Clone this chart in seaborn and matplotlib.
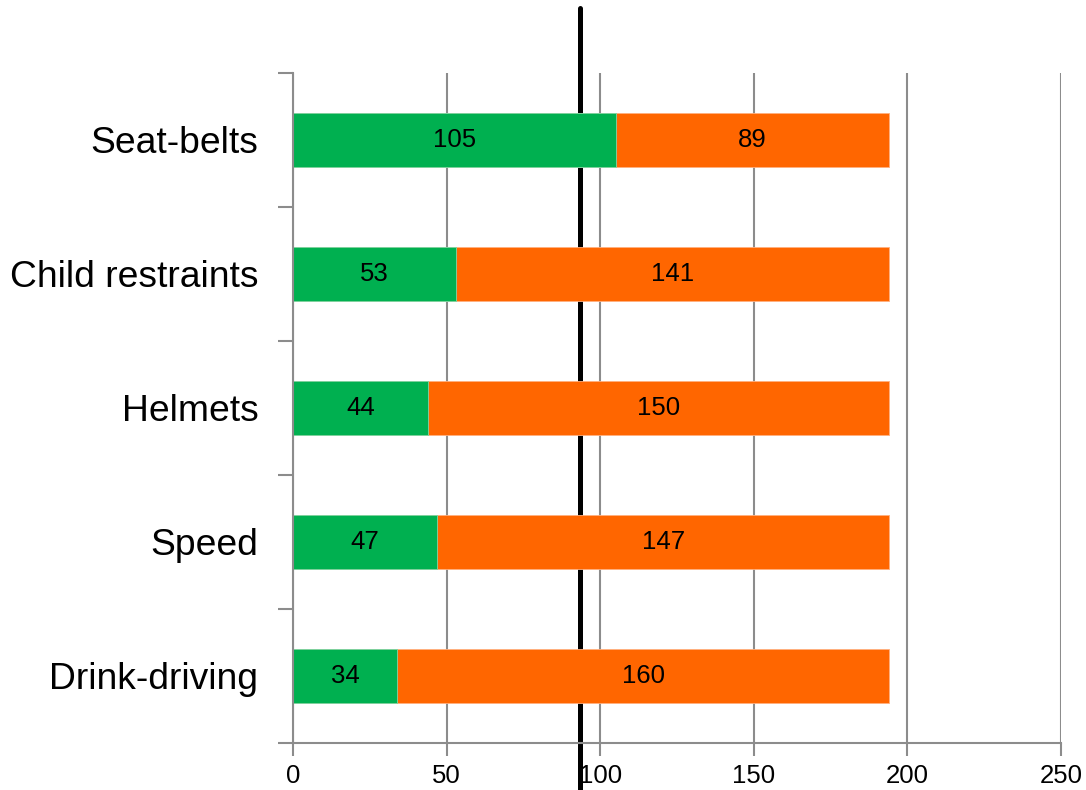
import matplotlib
matplotlib.use("Agg")
import matplotlib.pyplot as plt
import seaborn as sns
import pandas as pd
import numpy as np

# Countries meeting / not meeting best-practice criteria for each road-safety law
categories = ["Seat-belts", "Child restraints", "Helmets", "Speed", "Drink-driving"]
meets = [105, 53, 44, 47, 34]
does_not_meet = [89, 141, 150, 147, 160]
x_ticks = [0, 50, 100, 150, 200, 250]
reference_value = 93.4

GREEN = "#00B050"
ORANGE = "#FF6600"
GRID = "#8c8c8c"

sns.set_style("white")
plt.rcParams["font.family"] = ["Liberation Sans", "DejaVu Sans"]
plt.rcParams["text.color"] = "black"
plt.rcParams["xtick.labelcolor"] = "black"
plt.rcParams["ytick.labelcolor"] = "black"

df = pd.DataFrame({
    "category": categories,
    "meets": meets,
    "not_meets": does_not_meet,
})
df["total"] = df["meets"] + df["not_meets"]

fig = plt.figure(figsize=(10.86, 7.90), dpi=100)
ax = fig.add_axes([0.2698, 0.0595, 0.977 - 0.2698, 0.9076 - 0.0595])

sns.barplot(data=df, x="total", y="category", order=categories, orient="h",
            color=ORANGE, saturation=1, width=0.4, ax=ax,
            edgecolor="#ffb080", linewidth=0.6, zorder=2)
sns.barplot(data=df, x="meets", y="category", order=categories, orient="h",
            color=GREEN, saturation=1, width=0.4, ax=ax,
            edgecolor="#7fd8a8", linewidth=0.6, zorder=2)

# Value labels centred in each segment
for i, row in df.iterrows():
    ax.text(row["meets"] / 2, i, f"{row['meets']}", ha="center", va="center",
            fontsize=18.5, color="black", zorder=3)
    ax.text(row["meets"] + row["not_meets"] / 2, i, f"{row['not_meets']}",
            ha="center", va="center", fontsize=18.5, color="black", zorder=3)

ax.set_xlim(0, 250)
ax.set_ylim(len(categories) - 0.5, -0.5)
ax.set_xticks(x_ticks)
ax.set_xticklabels([str(t) for t in x_ticks], fontsize=18.5, color="black")
ax.set_xlabel("")
ax.set_ylabel("")

# Category labels on major ticks, tick marks on the boundaries between rows
ax.set_yticks(range(len(categories)))
ax.set_yticklabels(categories, fontsize=26.8, color="black")
ax.set_yticks(np.arange(-0.5, len(categories), 1.0), minor=True)
ax.tick_params(axis="y", which="major", length=0, pad=25)
ax.tick_params(axis="y", which="minor", length=11, width=1.5, color=GRID, left=True)
ax.tick_params(axis="x", which="major", length=9, width=1.5, color=GRID,
               bottom=True, pad=6)

ax.xaxis.grid(True, color=GRID, linewidth=1.5)
ax.set_axisbelow(True)
for side in ["top", "right"]:
    ax.spines[side].set_visible(False)
for side in ["left", "bottom"]:
    ax.spines[side].set_color(GRID)
    ax.spines[side].set_linewidth(1.5)

# Reference line running past the plot area, drawn behind the bars
ax.axvline(reference_value, ymin=-0.07, ymax=1.097, color="black",
           linewidth=3.6, clip_on=False, zorder=1)

fig.savefig("out.png", dpi=100)
